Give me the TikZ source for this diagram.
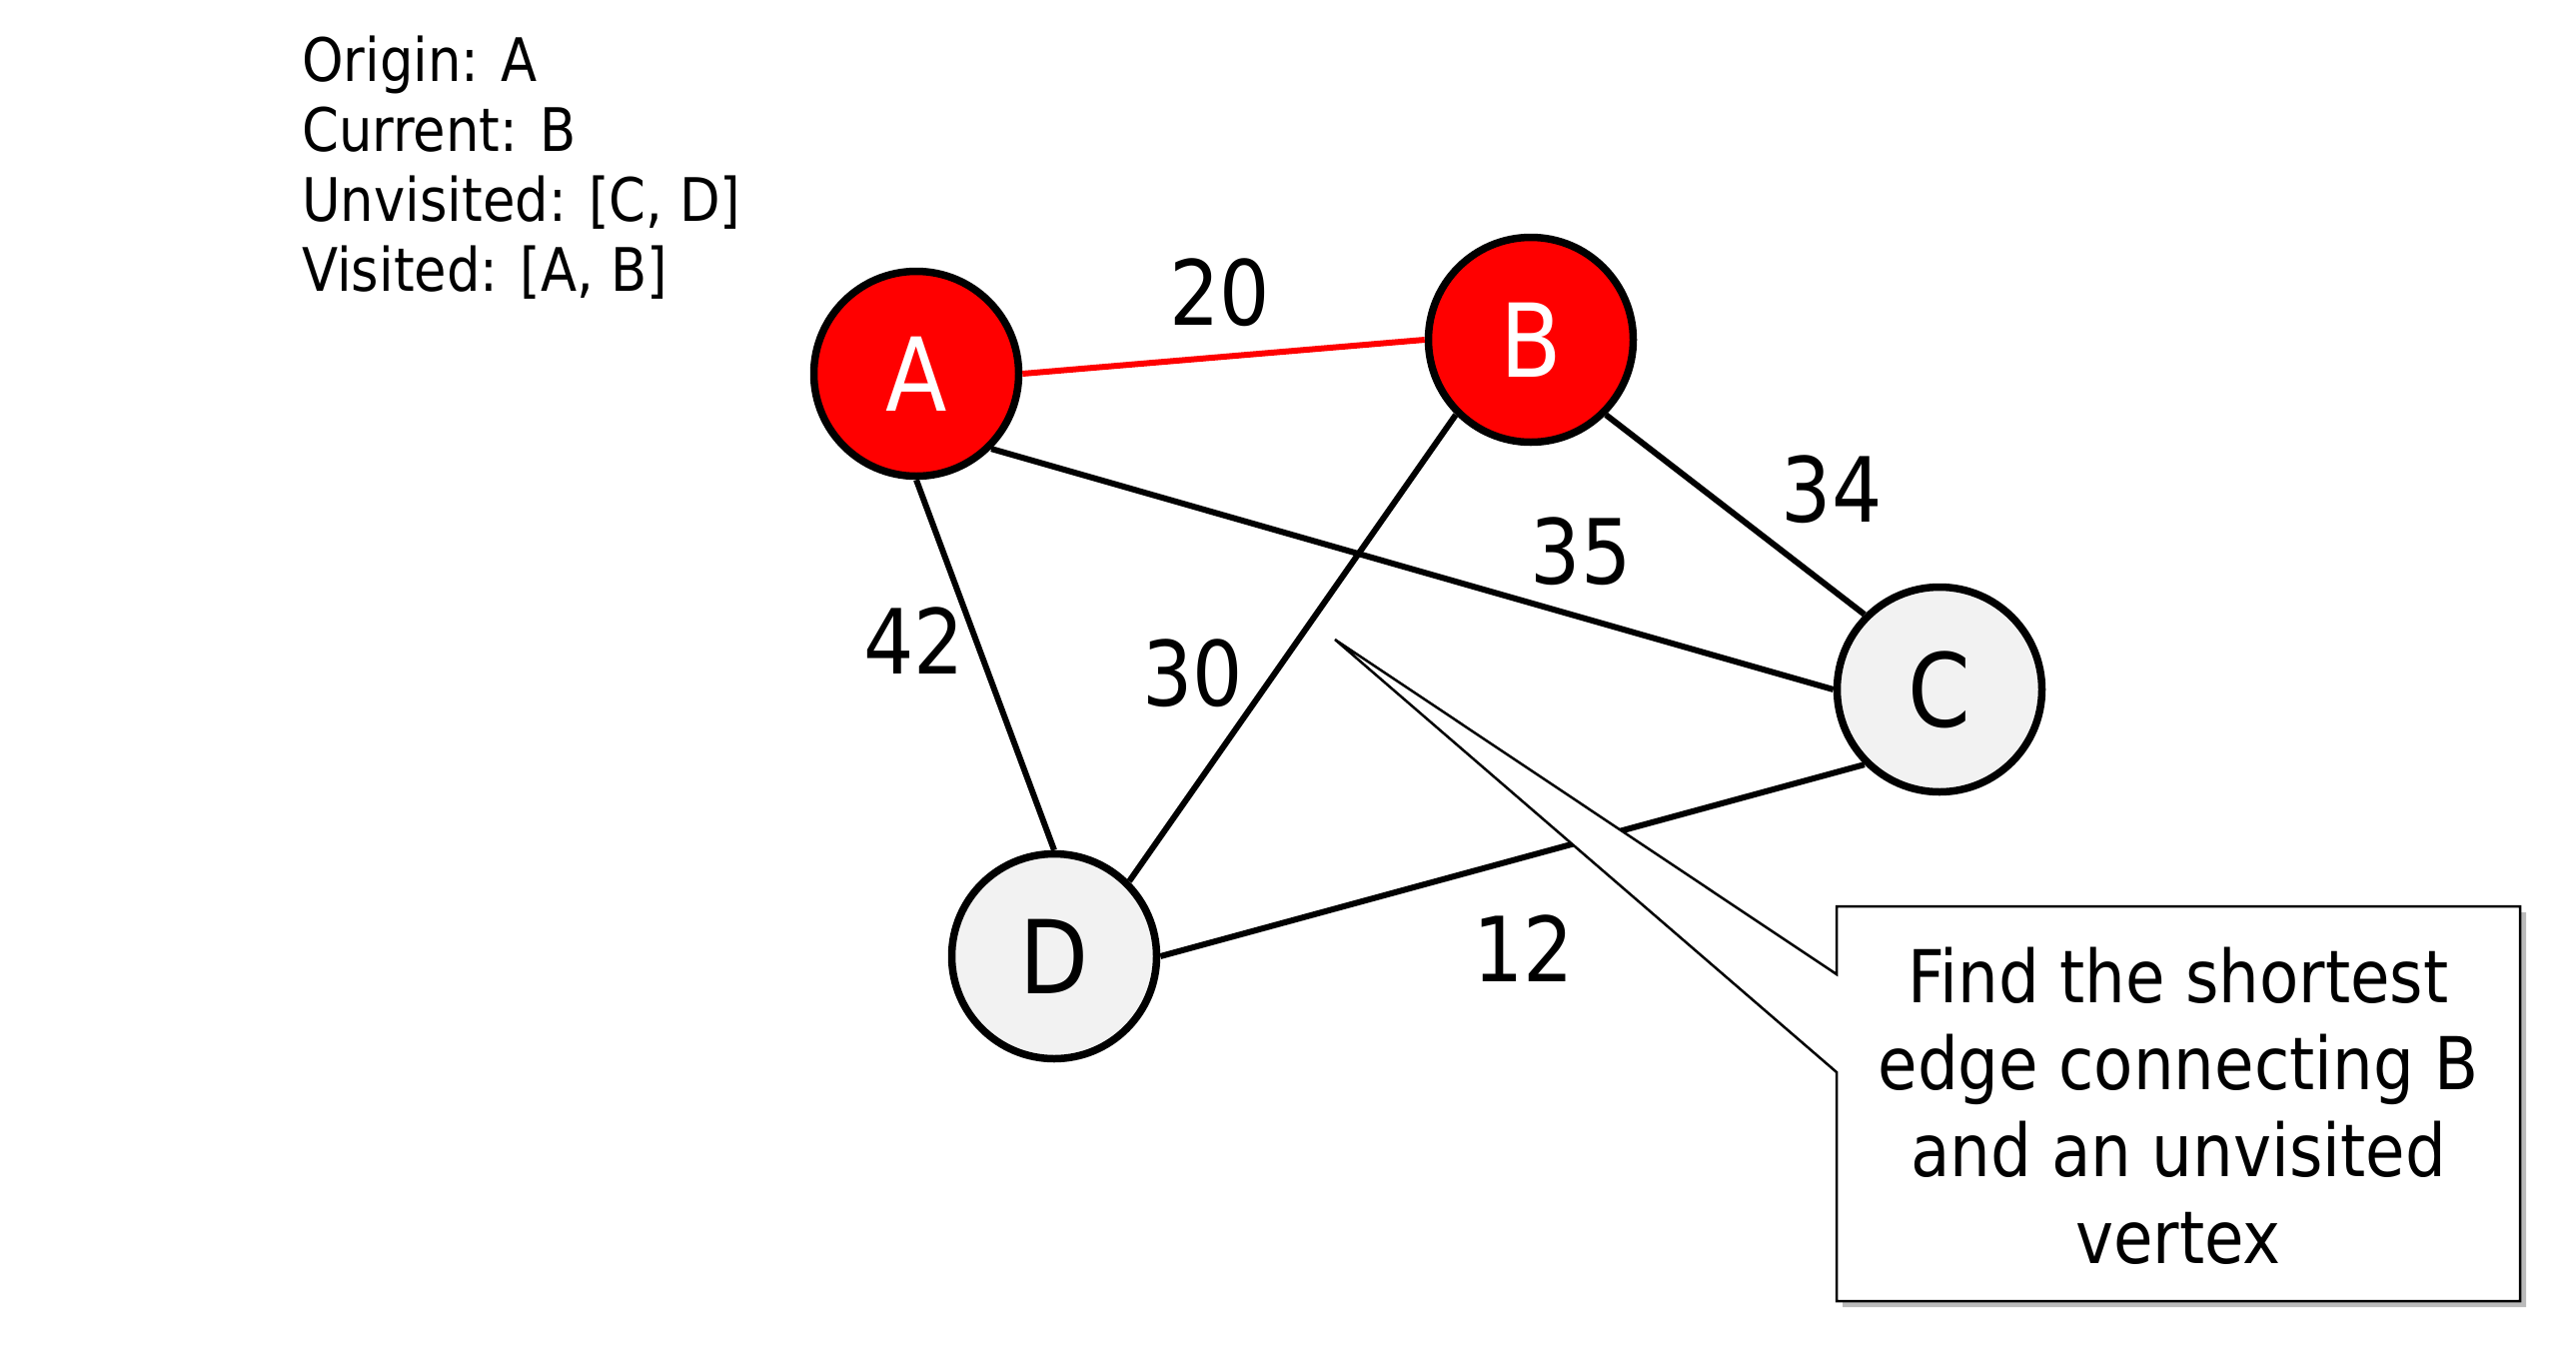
\documentclass[tikz,border=0pt]{standalone}
\usepackage{fontspec}
\setmainfont{DejaVu Sans}[FakeStretch=0.88]
\usetikzlibrary{shadows}
\definecolor{nodered}{RGB}{255,0,0}
\definecolor{nodegray}{RGB}{242,242,242}
\begin{document}
\begin{tikzpicture}[x=1pt,y=-1pt,
  vtx/.style={circle, draw=black, line width=7.5pt, minimum size=205pt, inner sep=0pt, font=\fontsize{102}{102}\selectfont},
  vis/.style={vtx, fill=nodered, text=white},
  unv/.style={vtx, fill=nodegray, text=black},
  edgeline/.style={line width=6pt, black},
  hotline/.style={line width=6pt, nodered},
  wlabel/.style={font=\fontsize{90}{90}\selectfont, inner sep=0pt},
  info/.style={font=\fontsize{60}{70}\selectfont, anchor=base west, inner sep=0pt},
  notetext/.style={font=\fontsize{73}{87}\selectfont, anchor=base, inner sep=0pt},
  callout/.style={draw=black, line width=2.5pt, fill=white,
    drop shadow={shadow xshift=6pt, shadow yshift=-6pt, fill=black!45, opacity=0.6}}
]
\useasboundingbox (0,0) rectangle (2578,1350);

% state text
\node[info] (origin) at (302,81) {Origin: A};
\node[info] (current) at (302,151) {Current: B};
\node[info] (unvisited) at (302,221) {Unvisited: [C, D]};
\node[info] (visited) at (302,291) {Visited: [A, B]};

% vertices
\node[vis] (A) at (917,374) {A};
\node[vis] (B) at (1532,340) {B};
\node[unv] (C) at (1941,690) {C};
\node[unv] (D) at (1055,957) {D};

% edges
\draw[hotline] (A.east) -- (B.west);
\draw[edgeline] (A.south) -- (D.north);
\draw[edgeline] (A.south east) -- (C.west);
\draw[edgeline] (B.south west) -- (D.north east);
\draw[edgeline] (B.south east) -- (C.north west);
\draw[edgeline] (D.east) -- (C.south west);

% weights
\node[wlabel] (w20) at (1221,293) {20};
\node[wlabel] (w34) at (1833,490) {34};
\node[wlabel] (w35) at (1582,552) {35};
\node[wlabel] (w42) at (915,641) {42};
\node[wlabel] (w30) at (1194,674) {30};
\node[wlabel] (w12) at (1525,949) {12};

% callout
\coordinate (tip) at (1336,640);
\coordinate (pa) at (1838,975);
\coordinate (pb) at (1838,1073);
\coordinate (bsw) at (1838,1302);
\coordinate (bse) at (2522,1302);
\coordinate (bne) at (2522,907);
\coordinate (bnw) at (1838,907);
\path[callout] (pa) -- (tip) -- (pb) -- (bsw) -- (bse) -- (bne) -- (bnw) -- cycle;
\node[notetext] (n1) at (2180,1003) {Find the shortest};
\node[notetext] (n2) at (2180,1090) {edge connecting B};
\node[notetext] (n3) at (2180,1177) {and an unvisited};
\node[notetext] (n4) at (2180,1264) {vertex};
\end{tikzpicture}
\end{document}
